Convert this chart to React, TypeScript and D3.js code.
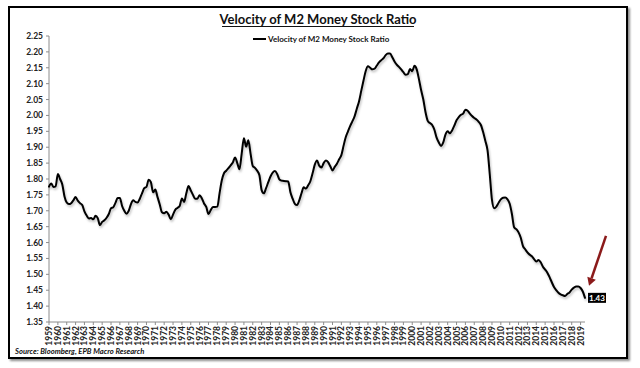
import { useMemo } from 'react'
import * as d3 from 'd3'

const TITLE = 'Velocity of M2 Money Stock Ratio'
const SERIES_NAME = 'Velocity of M2 Money Stock Ratio'
const SOURCE = 'Source: Bloomberg, EPB Macro Research'
const FIRST_YEAR = 1959

// quarterly readings, 1959 Q1 -> 2019 Q3
const velocity = [
  1.776, 1.786, 1.775, 1.777, // 1959
  1.816, 1.8, 1.783, 1.745, // 1960
  1.726, 1.721, 1.724, 1.733, // 1961
  1.743, 1.732, 1.724, 1.718, // 1962
  1.698, 1.685, 1.676, 1.677, // 1963
  1.673, 1.684, 1.677, 1.655, // 1964
  1.665, 1.67, 1.678, 1.69, // 1965
  1.708, 1.711, 1.725, 1.74, // 1966
  1.74, 1.715, 1.7, 1.691, // 1967
  1.7, 1.721, 1.733, 1.728, // 1968
  1.726, 1.738, 1.755, 1.771, // 1969
  1.775, 1.798, 1.79, 1.758, // 1970
  1.767, 1.743, 1.72, 1.695, // 1971
  1.692, 1.697, 1.688, 1.673, // 1972
  1.688, 1.703, 1.709, 1.715, // 1973
  1.739, 1.728, 1.755, 1.778, // 1974
  1.764, 1.75, 1.738, 1.738, // 1975
  1.749, 1.739, 1.723, 1.712, // 1976
  1.69, 1.702, 1.712, 1.712, // 1977
  1.713, 1.755, 1.795, 1.818, // 1978
  1.826, 1.834, 1.843, 1.852, // 1979
  1.868, 1.85, 1.831, 1.88, // 1980
  1.928, 1.902, 1.922, 1.88, // 1981
  1.841, 1.835, 1.826, 1.812, // 1982
  1.765, 1.755, 1.771, 1.79, // 1983
  1.808, 1.82, 1.825, 1.816, // 1984
  1.799, 1.795, 1.794, 1.793, // 1985
  1.792, 1.758, 1.738, 1.722, // 1986
  1.718, 1.733, 1.755, 1.774, // 1987
  1.77, 1.78, 1.793, 1.818, // 1988
  1.845, 1.858, 1.842, 1.836, // 1989
  1.85, 1.858, 1.853, 1.84, // 1990
  1.827, 1.838, 1.848, 1.862, // 1991
  1.875, 1.905, 1.932, 1.95, // 1992
  1.967, 1.982, 1.998, 2.022, // 1993
  2.045, 2.078, 2.11, 2.14, // 1994
  2.155, 2.15, 2.145, 2.147, // 1995
  2.157, 2.167, 2.174, 2.18, // 1996
  2.19, 2.195, 2.195, 2.183, // 1997
  2.17, 2.16, 2.153, 2.145, // 1998
  2.136, 2.128, 2.13, 2.146, // 1999
  2.139, 2.156, 2.145, 2.115, // 2000
  2.08, 2.05, 2.01, 1.983, // 2001
  1.976, 1.97, 1.955, 1.93, // 2002
  1.915, 1.904, 1.915, 1.94, // 2003
  1.95, 1.944, 1.953, 1.968, // 2004
  1.985, 1.995, 2.002, 2.006, // 2005
  2.018, 2.015, 2.006, 1.998, // 2006
  1.992, 1.987, 1.98, 1.97, // 2007
  1.948, 1.92, 1.89, 1.815, // 2008
  1.734, 1.708, 1.713, 1.725, // 2009
  1.736, 1.741, 1.742, 1.736, // 2010
  1.722, 1.69, 1.648, 1.642, // 2011
  1.632, 1.615, 1.589, 1.579, // 2012
  1.569, 1.562, 1.557, 1.548, // 2013
  1.54, 1.545, 1.538, 1.524, // 2014
  1.515, 1.505, 1.491, 1.475, // 2015
  1.46, 1.45, 1.442, 1.437, // 2016
  1.434, 1.432, 1.438, 1.443, // 2017
  1.452, 1.458, 1.462, 1.462, // 2018
  1.457, 1.446, 1.426, // 2019
]

const yTicks = [1.35, 1.4, 1.45, 1.5, 1.55, 1.6, 1.65, 1.7, 1.75, 1.8, 1.85, 1.9, 1.95, 2.0, 2.05, 2.1, 2.15, 2.2, 2.25]
const yearLabels = d3.range(1959, 2020).map(String)
const lastLabel = '1.43'

const FONT = "Lato, 'Open Sans', sans-serif"

export default function App() {
  const width = 640
  const height = 368
  const plot = { left: 49, right: 585, top: 36, bottom: 322 }

  const points = useMemo(
    () => velocity.map((value, i) => ({ date: FIRST_YEAR + i / 4, value })),
    [],
  )

  const x = d3
    .scaleLinear()
    .domain([FIRST_YEAR, points[points.length - 1].date])
    .range([plot.left, plot.right])
  const y = d3.scaleLinear().domain([1.35, 2.25]).range([plot.bottom, plot.top])

  const line = d3
    .line<{ date: number; value: number }>()
    .x(d => x(d.date))
    .y(d => y(d.value))
    .curve(d3.curveMonotoneX)

  const last = points[points.length - 1]
  const lx = x(last.date)
  const ly = y(last.value)

  // arrow pointing down-left toward the last value
  const a0 = { x: lx + 21, y: ly - 62 }
  const a1 = { x: lx + 4, y: ly - 12 }
  const ang = Math.atan2(a1.y - a0.y, a1.x - a0.x)
  const head = 8
  const headW = 4.5
  const bx = a1.x - Math.cos(ang) * head
  const by = a1.y - Math.sin(ang) * head
  const arrowHead = [
    [a1.x, a1.y],
    [bx + Math.sin(ang) * headW, by - Math.cos(ang) * headW],
    [bx - Math.sin(ang) * headW, by + Math.cos(ang) * headW],
  ]

  return (
    <svg
      width={width}
      height={height}
      viewBox={`0 0 ${width} ${height}`}
      style={{ position: 'absolute', left: 0, top: 0, background: '#fff' }}
      fontFamily={FONT}
    >
      <defs>
        <filter id="lineShadow" x="-5%" y="-5%" width="110%" height="120%">
          <feDropShadow dx="1" dy="2" stdDeviation="1.2" floodColor="#000" floodOpacity="0.25" />
        </filter>
        <filter id="boxShadow" x="-5%" y="-5%" width="110%" height="110%">
          <feDropShadow dx="2" dy="2" stdDeviation="1.2" floodColor="#000" floodOpacity="0.45" />
        </filter>
      </defs>

      <rect x={9} y={7} width={618} height={351} fill="#fff" stroke="#000" strokeWidth={2} filter="url(#boxShadow)" />

      <text x={318} y={24} textAnchor="middle" fontSize={13} fontWeight={700} fill="#111">
        {TITLE}
      </text>
      <line x1={222} x2={414} y1={26.5} y2={26.5} stroke="#111" strokeWidth={1} />

      <line x1={253} x2={266} y1={39} y2={39} stroke="#000" strokeWidth={2} />
      <text x={268} y={42} fontSize={8} fontWeight={700} fill="#111">
        {SERIES_NAME}
      </text>

      {/* y axis */}
      <line x1={plot.left} x2={plot.left} y1={plot.top} y2={plot.bottom} stroke="#8c8c8c" />
      {yTicks.map(t => (
        <g key={t}>
          <line x1={plot.left - 3} x2={plot.left} y1={y(t)} y2={y(t)} stroke="#8c8c8c" />
          <text x={43} y={y(t) + 3} textAnchor="end" fontSize={8.5} fontWeight={700} fill="#222">
            {t.toFixed(2)}
          </text>
        </g>
      ))}

      {/* x axis */}
      <line x1={plot.left} x2={plot.right} y1={plot.bottom} y2={plot.bottom} stroke="#8c8c8c" />
      {yearLabels.map(label => {
        const xx = x(+label)
        return (
          <g key={label}>
            <line x1={xx} x2={xx} y1={plot.bottom} y2={plot.bottom + 3} stroke="#8c8c8c" />
            <text
              transform={`translate(${xx + 3},${plot.bottom + 4}) rotate(-90)`}
              textAnchor="end"
              fontSize={8.5}
              fontWeight={700}
              fill="#222"
            >
              {label}
            </text>
          </g>
        )
      })}

      <path
        d={line(points) ?? ''}
        fill="none"
        stroke="#000"
        strokeWidth={2}
        strokeLinejoin="round"
        strokeLinecap="round"
        filter="url(#lineShadow)"
      />

      {/* last value callout */}
      <rect x={lx + 3} y={ly - 5} width={18} height={10} fill="#000" />
      <text x={lx + 12} y={ly + 3} textAnchor="middle" fontSize={8} fontWeight={700} fill="#fff">
        {lastLabel}
      </text>

      <line x1={a0.x} y1={a0.y} x2={bx} y2={by} stroke="#8b1a1a" strokeWidth={2.5} />
      <polygon points={arrowHead.map(p => p.join(',')).join(' ')} fill="#8b1a1a" />

      <text x={15} y={354} fontSize={7.6} fontWeight={700} fontStyle="italic" fill="#111">
        {SOURCE}
      </text>
    </svg>
  )
}
